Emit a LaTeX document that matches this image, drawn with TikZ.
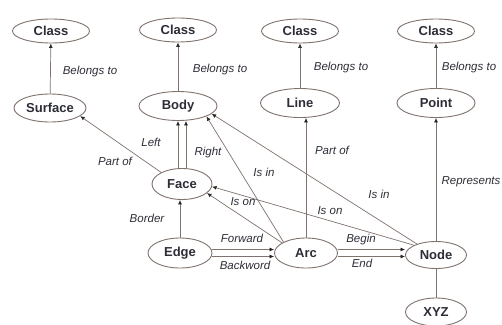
\documentclass[tikz,border=0pt]{standalone}
\usepackage{fontspec}
\setmainfont{Liberation Sans}
\usetikzlibrary{shapes.geometric,arrows.meta}
\definecolor{lnclr}{RGB}{128,114,108}
\definecolor{txtclr}{RGB}{45,45,55}
\begin{document}
\begin{tikzpicture}[x=1pt,y=-1pt,
    ent/.style={ellipse, draw=lnclr, line width=0.9pt, inner sep=0pt, minimum width=77pt, minimum height=24pt, text=txtclr, font=\fontsize{13}{15}\selectfont\bfseries},
    lbl/.style={inner sep=0pt, text=txtclr, font=\fontsize{11.5}{13}\selectfont\itshape},
    ln/.style={draw=lnclr, line width=0.7pt},
    arr/.style={ln, -{Latex[length=4.5pt,width=4pt,color=black!85]}}]
    \useasboundingbox (0,0) rectangle (502,324);
    \node[ent] (cls1) at (51,31) {Class};
    \node[ent] (cls2) at (178,30) {Class};
    \node[ent] (cls3) at (300,31) {Class};
    \node[ent] (cls4) at (436,31) {Class};
    \node[ent, minimum width=72pt, minimum height=28pt] (surf) at (50,108) {Surface};
    \node[ent, minimum width=78pt, minimum height=29pt] (body) at (178,106) {Body};
    \node[ent, minimum width=79pt, minimum height=29pt] (line) at (300,103) {Line};
    \node[ent, minimum width=78pt, minimum height=29pt] (point) at (436,103) {Point};
    \node[ent, minimum width=60pt, minimum height=31pt] (face) at (182,184) {Face};
    \node[ent, minimum width=64pt, minimum height=30pt] (edge) at (180,253) {Edge};
    \node[ent, minimum width=63pt, minimum height=30pt] (arc) at (306,253) {Arc};
    \node[ent, minimum width=61pt, minimum height=27pt] (vtx) at (436,255) {Node};
    \node[ent, minimum width=61pt, minimum height=28pt] (xyz) at (436,312) {XYZ};

    \draw[arr] (surf) -- (cls1);
    \draw[arr] (body) -- (cls2);
    \draw[arr] (line) -- (cls3);
    \draw[arr] (point) -- (cls4);
    \draw[arr] (face.151) -- (surf.-15);
    \draw[arr] ([xshift=-4pt]face.north) -- ([xshift=-4pt]face.north |- body.south);
    \draw[arr] ([xshift=4pt]face.north) -- ([xshift=4pt]face.north |- body.south);
    \draw[arr] (edge.north) -- (edge.north |- face.south);
    \draw[arr] ([yshift=3.5pt]edge.east) -- ([yshift=3.5pt]edge.east -| arc.west);
    \draw[arr] ([yshift=-3.5pt]edge.east) -- ([yshift=-3.5pt]edge.east -| arc.west);
    \draw[arr] (arc.154) -- (body.-20);
    \draw[arr] (arc.157) -- (face.-20);
    \draw[arr] (arc.north) -- (arc.north |- line.south);
    \draw[arr] ([yshift=3.5pt]arc.east) -- ([yshift=3.5pt]arc.east -| vtx.west);
    \draw[arr] ([yshift=-3.5pt]arc.east) -- ([yshift=-3.5pt]arc.east -| vtx.west);
    \draw[arr] (vtx.156) -- (face.-5);
    \draw[arr] (vtx.150) -- (body.-13);
    \draw[arr] (vtx.north) -- (point.south);
    \draw[ln] (vtx) -- (xyz);

    \node[lbl] (b1) at (90,72) {Belongs to};
    \node[lbl] (b2) at (220,70) {Belongs to};
    \node[lbl] (b3) at (341,68) {Belongs to};
    \node[lbl] (b4) at (469,68) {Belongs to};
    \node[lbl] (p1) at (115,161) {Part of};
    \node[lbl] (lf) at (151,142) {Left};
    \node[lbl] (rt) at (208,153) {Right};
    \node[lbl] (bd) at (147,218) {Border};
    \node[lbl] (i1) at (264,172) {Is in};
    \node[lbl] (o1) at (243,202) {Is on};
    \node[lbl] (p2) at (332,150) {Part of};
    \node[lbl] (o2) at (330,211) {Is on};
    \node[lbl] (i2) at (379,194) {Is in};
    \node[lbl] (fw) at (242,238) {Forward};
    \node[lbl] (bw) at (245,265) {Backword};
    \node[lbl] (bg) at (361,240) {Begin};
    \node[lbl] (en) at (362,263) {End};
    \node[lbl] (rp) at (471,182) {Represents};
\end{tikzpicture}
\end{document}
